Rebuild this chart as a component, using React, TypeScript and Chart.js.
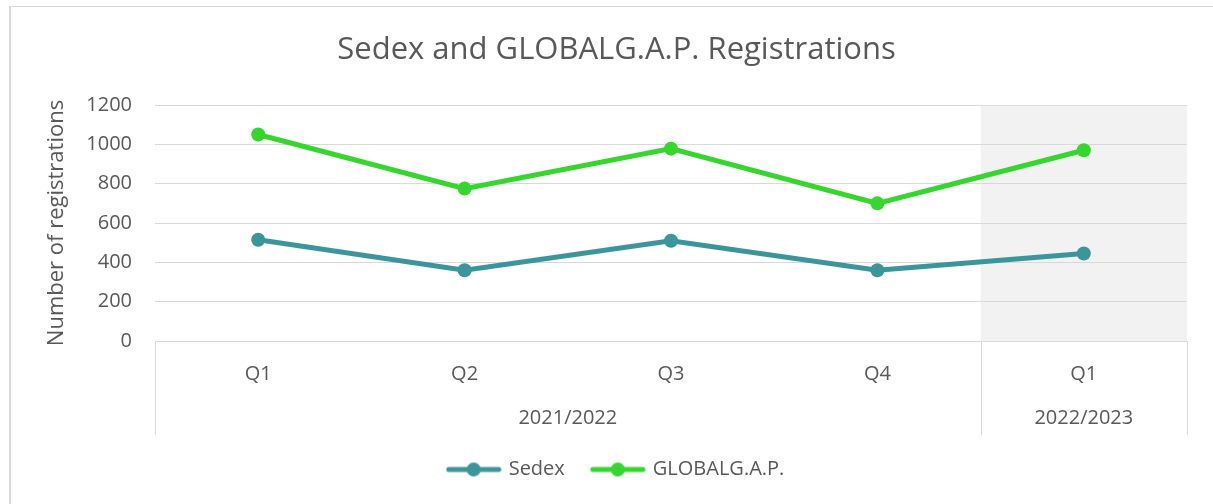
import React, { useEffect, useRef } from "react";
import { Chart, registerables } from "chart.js";

Chart.register(...registerables);

const categories = ["Q1", "Q2", "Q3", "Q4", "Q1"];
const sedexValues = [515, 360, 510, 360, 445];
const globalgapValues = [1050, 775, 978, 700, 970];
const seriesLabels = ["Sedex", "GLOBALG.A.P."];
const seriesColors = ["#3A969A", "#35D62D"];
const groupLabels = ["2021/2022", "2022/2023"];
const groupStarts = [0, 4];
const groupEnds = [3, 4];
const shadedStart = 4;
const yMin = 0;
const yMax = 1200;
const yStep = 200;

const FONT = "'Open Sans', 'Noto Sans', sans-serif";
const TEXT = "#595959";
const GRID = "#d9d9d9";

function makeIcon(color: string): HTMLCanvasElement {
  const c = document.createElement("canvas");
  c.width = 56;
  c.height = 16;
  const ctx = c.getContext("2d")!;
  ctx.strokeStyle = color;
  ctx.lineWidth = 5;
  ctx.lineCap = "round";
  ctx.beginPath();
  ctx.moveTo(3, 8);
  ctx.lineTo(53, 8);
  ctx.stroke();
  ctx.fillStyle = color;
  ctx.beginPath();
  ctx.arc(28, 8, 7, 0, Math.PI * 2);
  ctx.fill();
  return c;
}

const groupPlugin = {
  id: "groupPlugin",
  beforeDraw(chart: any) {
    const { ctx, chartArea } = chart;
    const x = chart.scales.x;
    const l = x.getPixelForValue(shadedStart - 0.5);
    const r = x.getPixelForValue(categories.length - 0.5);
    ctx.save();
    ctx.fillStyle = "#f2f2f2";
    ctx.fillRect(l, chartArea.top, r - l, chartArea.bottom - chartArea.top);
    ctx.restore();
  },
  afterDraw(chart: any) {
    const { ctx, chartArea } = chart;
    const x = chart.scales.x;
    const top = chartArea.bottom;
    const bottom = chartArea.bottom + 94;
    ctx.save();
    ctx.strokeStyle = GRID;
    ctx.lineWidth = 1;
    const edges = new Set<number>();
    groupStarts.forEach((s, i) => {
      edges.add(s - 0.5);
      edges.add(groupEnds[i] + 0.5);
    });
    edges.forEach((v) => {
      const px = Math.round(x.getPixelForValue(v)) + 0.5;
      ctx.beginPath();
      ctx.moveTo(px, top);
      ctx.lineTo(px, bottom);
      ctx.stroke();
    });
    ctx.fillStyle = TEXT;
    ctx.font = `20px ${FONT}`;
    ctx.textAlign = "center";
    ctx.textBaseline = "middle";
    groupLabels.forEach((lab, i) => {
      const cx = x.getPixelForValue((groupStarts[i] + groupEnds[i]) / 2);
      ctx.fillText(lab, cx, chartArea.bottom + 77);
    });
    ctx.restore();
  },
};

export default function App() {
  const ref = useRef<HTMLCanvasElement>(null);

  useEffect(() => {
    document.body.style.margin = "0";
    const icons = seriesColors.map(makeIcon);
    const chart = new Chart(ref.current!, {
      type: "line",
      data: {
        labels: categories,
        datasets: [
          {
            label: seriesLabels[0],
            data: sedexValues,
            borderColor: seriesColors[0],
            backgroundColor: seriesColors[0],
            pointBackgroundColor: seriesColors[0],
            borderWidth: 5,
            pointRadius: 7,
            pointBorderWidth: 0,
            tension: 0,
          },
          {
            label: seriesLabels[1],
            data: globalgapValues,
            borderColor: seriesColors[1],
            backgroundColor: seriesColors[1],
            pointBackgroundColor: seriesColors[1],
            borderWidth: 5,
            pointRadius: 7,
            pointBorderWidth: 0,
            tension: 0,
          },
        ],
      },
      options: {
        animation: false,
        responsive: false,
        maintainAspectRatio: false,
        layout: { padding: { left: 20, right: 0, top: 0, bottom: 14.5 } },
        plugins: {
          title: {
            display: true,
            text: "Sedex and GLOBALG.A.P. Registrations",
            color: TEXT,
            font: { family: FONT, size: 31, weight: "normal" },
            padding: { top: 31.4, bottom: 36.4 },
          },
          legend: {
            display: true,
            position: "bottom",
            labels: {
              usePointStyle: true,
              pointStyleWidth: 50,
              padding: 28,
              color: TEXT,
              font: { family: FONT, size: 20 },
              generateLabels: (c: any) =>
                c.data.datasets.map((ds: any, i: number) => ({
                  text: ds.label,
                  fillStyle: ds.borderColor,
                  strokeStyle: ds.borderColor,
                  lineWidth: 0,
                  pointStyle: icons[i],
                  datasetIndex: i,
                  hidden: false,
                  fontColor: TEXT,
                })),
            },
          },
          tooltip: { enabled: false },
        },
        scales: {
          x: {
            type: "category",
            offset: true,
            grid: { display: false, drawTicks: false },
            border: { display: true, color: GRID, width: 1 },
            ticks: { padding: 21, color: TEXT, font: { family: FONT, size: 20 } },
            afterFit: (s: any) => {
              s.height = 90.5;
            },
          },
          y: {
            min: yMin,
            max: yMax,
            grid: { color: GRID, lineWidth: 1, drawTicks: false },
            border: { display: false },
            ticks: {
              stepSize: yStep,
              padding: 23,
              color: TEXT,
              font: { family: FONT, size: 20 },
              callback: (v: any) => String(v),
            },
            title: {
              display: true,
              text: "Number of registrations",
              color: TEXT,
              font: { family: FONT, size: 22 },
              padding: { top: 23.8, bottom: 0 },
            },
            afterFit: (s: any) => {
              s.width = 135;
            },
          },
          yR: {
            position: "right",
            display: true,
            grid: { display: false, drawTicks: false },
            border: { display: false },
            ticks: { display: false },
            afterFit: (s: any) => {
              s.width = 26;
            },
          },
        },
      },
      plugins: [groupPlugin],
    } as any);
    return () => chart.destroy();
  }, []);

  return (
    <div style={{ position: "relative", width: 1213, height: 504, overflow: "hidden", background: "#fff" }}>
      <canvas ref={ref} width={1213} height={504} style={{ display: "block", width: 1213, height: 504 }} />
      <div
        style={{
          position: "absolute",
          left: 9,
          top: 6,
          width: 1213,
          height: 504,
          borderLeft: "2px solid #d9d9d9",
          borderTop: "1px solid #d9d9d9",
          pointerEvents: "none",
        }}
      />
    </div>
  );
}
